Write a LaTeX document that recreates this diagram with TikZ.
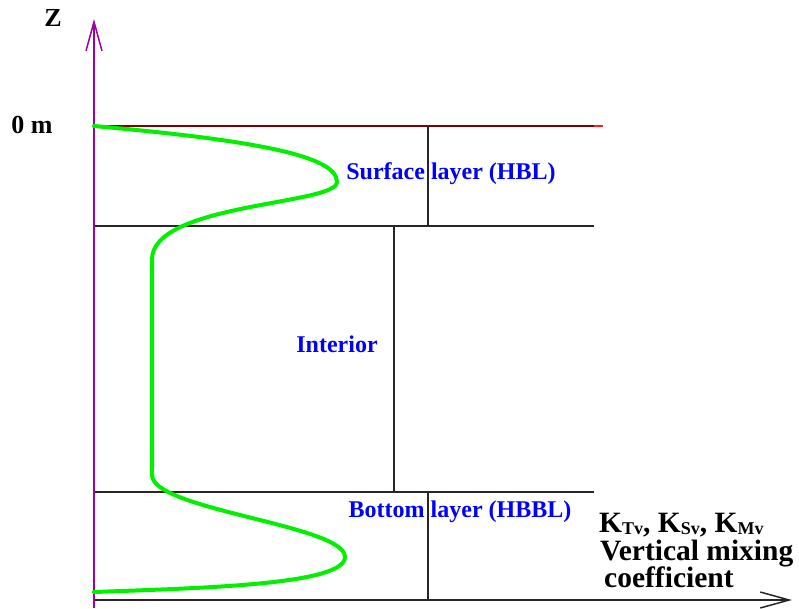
\documentclass[tikz,border=0pt]{standalone}
\usepackage{fontspec}
\setmainfont{Liberation Serif}
\usetikzlibrary{arrows.meta}
\definecolor{axispurple}{RGB}{160,0,160}
\definecolor{topred}{RGB}{128,0,0}
\definecolor{brightred}{RGB}{255,30,30}
\definecolor{curvegreen}{RGB}{0,240,0}
\definecolor{labelblue}{RGB}{0,0,255}
\newcommand\ksub[1]{\raisebox{-0.15ex}{\fontsize{18}{18}\selectfont #1}}
\begin{document}
\begin{tikzpicture}[x=1pt,y=-1pt,
  layerline/.style={draw=black!85,line width=2pt},
  divline/.style={draw=black!85,line width=1.6pt},
  lbl/.style={text=labelblue,font=\fontsize{24}{24}\selectfont\bfseries,inner sep=0pt,anchor=base},
  axlbl/.style={font=\fontsize{26}{26}\selectfont\bfseries,inner sep=0pt,anchor=base},
  klbl/.style={font=\fontsize{29.5}{29.5}\selectfont\bfseries,inner sep=0pt,anchor=base west},
  barb/.style={-{Straight Barb[length=29pt,width=16pt,line width=1.5pt]}}]
\useasboundingbox (0,0) rectangle (799,608);
% coordinates
\coordinate (zbot) at (94,608);
\coordinate (ztop) at (94,19);
\coordinate (xl) at (94,600);
\coordinate (xr) at (792,600);
\coordinate (t0) at (94,126);
\coordinate (t1) at (594,126);
\coordinate (t2) at (603,126);
\coordinate (m0) at (94,226);
\coordinate (m1) at (594,226);
\coordinate (b0) at (94,492);
\coordinate (b1) at (594,492);
\coordinate (v1a) at (428,126);
\coordinate (v1b) at (428,226);
\coordinate (v2a) at (394,226);
\coordinate (v2b) at (394,492);
\coordinate (v3a) at (428,492);
\coordinate (v3b) at (428,600);
% layer lines
\draw[topred,line width=2pt] (t0) -- (t1);
\draw[brightred,line width=2pt] (t1) -- (t2);
\draw[layerline] (m0) -- (m1);
\draw[layerline] (b0) -- (b1);
\draw[divline] (v1a) -- (v1b);
\draw[divline] (v2a) -- (v2b);
\draw[divline] (v3a) -- (v3b);
% axes
\draw[black!85,line width=2.4pt,barb] (xl) -- (xr);
\draw[axispurple,line width=1.5pt,barb] (zbot) -- (ztop);
% labels
\node[axlbl] (zl) at (53,26) {Z};
\node[axlbl] (om) at (32,133) {0 m};
\node[lbl] (surf) at (451,179) {Surface layer (HBL)};
\node[lbl] (intr) at (337,352) {Interior};
\node[lbl] (bott) at (460,517) {Bottom layer (HBBL)};
\node[klbl] (kl) at (599,532) {K\ksub{Tv}, K\ksub{Sv}, K\ksub{Mv}};
\node[klbl] (vm) at (600,560) {Vertical mixing};
\node[klbl] (cf) at (604,587) {coefficient};
% profile curve
\draw[curvegreen,line width=4pt,line cap=round]
  (94,126) .. controls (250,140) and (337,155) .. (337,182)
  .. controls (337,205) and (151,203) .. (152,260)
  -- (152,475)
  .. controls (152,510) and (345,525) .. (345,557)
  .. controls (345,585) and (200,588) .. (94,592);
\end{tikzpicture}
\end{document}
